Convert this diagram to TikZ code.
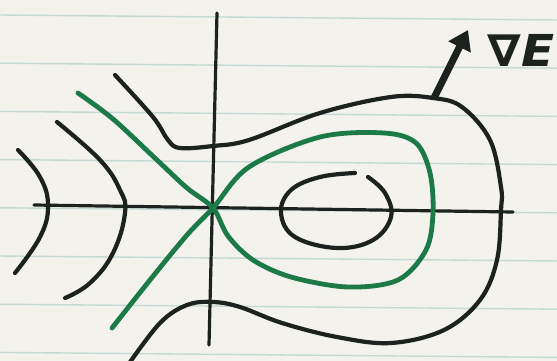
\documentclass[tikz,border=0pt]{standalone}
\usepackage{fontspec}
\newfontfamily\labelfont{DejaVu Sans}
\usetikzlibrary{arrows.meta}
\definecolor{paper}{RGB}{243,242,237}
\definecolor{rule}{RGB}{196,218,212}
\definecolor{ink}{RGB}{28,34,30}
\definecolor{greenink}{RGB}{28,122,70}
\tikzset{
  sheetline/.style={rule, line width=1.4pt},
  axisline/.style={ink, line width=3.2pt, line cap=round},
  levelcurve/.style={ink, line width=4.2pt, line cap=round, line join=round},
  separatrix/.style={greenink, line width=4.8pt, line cap=round, line join=round},
  gradarrow/.style={ink, line width=7pt, -{Triangle[length=19pt,width=24pt]}},
}
\begin{document}
\begin{tikzpicture}[x=1pt,y=-1pt]
\useasboundingbox (0,0) rectangle (557,361);
\fill[paper] (0,0) rectangle (557,361);
% ruled paper
\foreach \k in {0,...,7}{
  \draw[sheetline] (0,{15+48.2*\k}) -- (557,{20+48.2*\k});
}
% axes
\coordinate (vtop) at (217,13);
\coordinate (vbot) at (209,345);
\coordinate (hleft) at (34,205);
\coordinate (hright) at (513,212);
\draw[axisline] (vtop) -- (vbot);
\draw[axisline] (hleft) -- (hright);
% left arcs
\draw[levelcurve] plot[smooth, tension=0.7] coordinates {(18,150) (40,177) (48,206) (40,237) (15,273)};
\draw[levelcurve] plot[smooth, tension=0.7] coordinates {(57,122) (100,160) (120,190) (125,213) (113,253) (90,283) (65,298)};
% separatrix
\draw[separatrix] plot[smooth, tension=0.55] coordinates {(78,93) (113,119) (157,160) (187,188) (213,208) (228,236) (253,260) (291,277) (348,287) (398,280) (426,250) (433,213) (430,173) (416,143) (384,133) (320,137) (249,167) (213,208) (187,235) (150,280) (112,328)};
% outer level curve
\draw[levelcurve] plot[smooth, tension=0.6] coordinates {(115,75) (153,117) (168,140) (180,148) (213,146) (249,140) (320,113) (391,97) (433,98) (462,107) (490,140) (501,187) (501,210) (497,260) (480,300) (444,330) (391,343) (337,337) (282,323) (240,307) (213,302) (187,305) (160,323) (128,365)};
% inner level curve
\draw[levelcurve] plot[smooth, tension=0.65] coordinates {(368,177) (385,193) (391,217) (373,240) (337,248) (295,237) (281,213) (291,190) (320,177) (355,173)};
% gradient arrow
\coordinate (gradfoot) at (434,98);
\coordinate (gradtip) at (468,30);
\draw[gradarrow] (gradfoot) -- (gradtip);
\node[ink, inner sep=0pt, xscale=1.1, font=\labelfont\bfseries\itshape\fontsize{44}{44}\selectfont] (gradlabel) at (521,50) {∇E};
\end{tikzpicture}
\end{document}
